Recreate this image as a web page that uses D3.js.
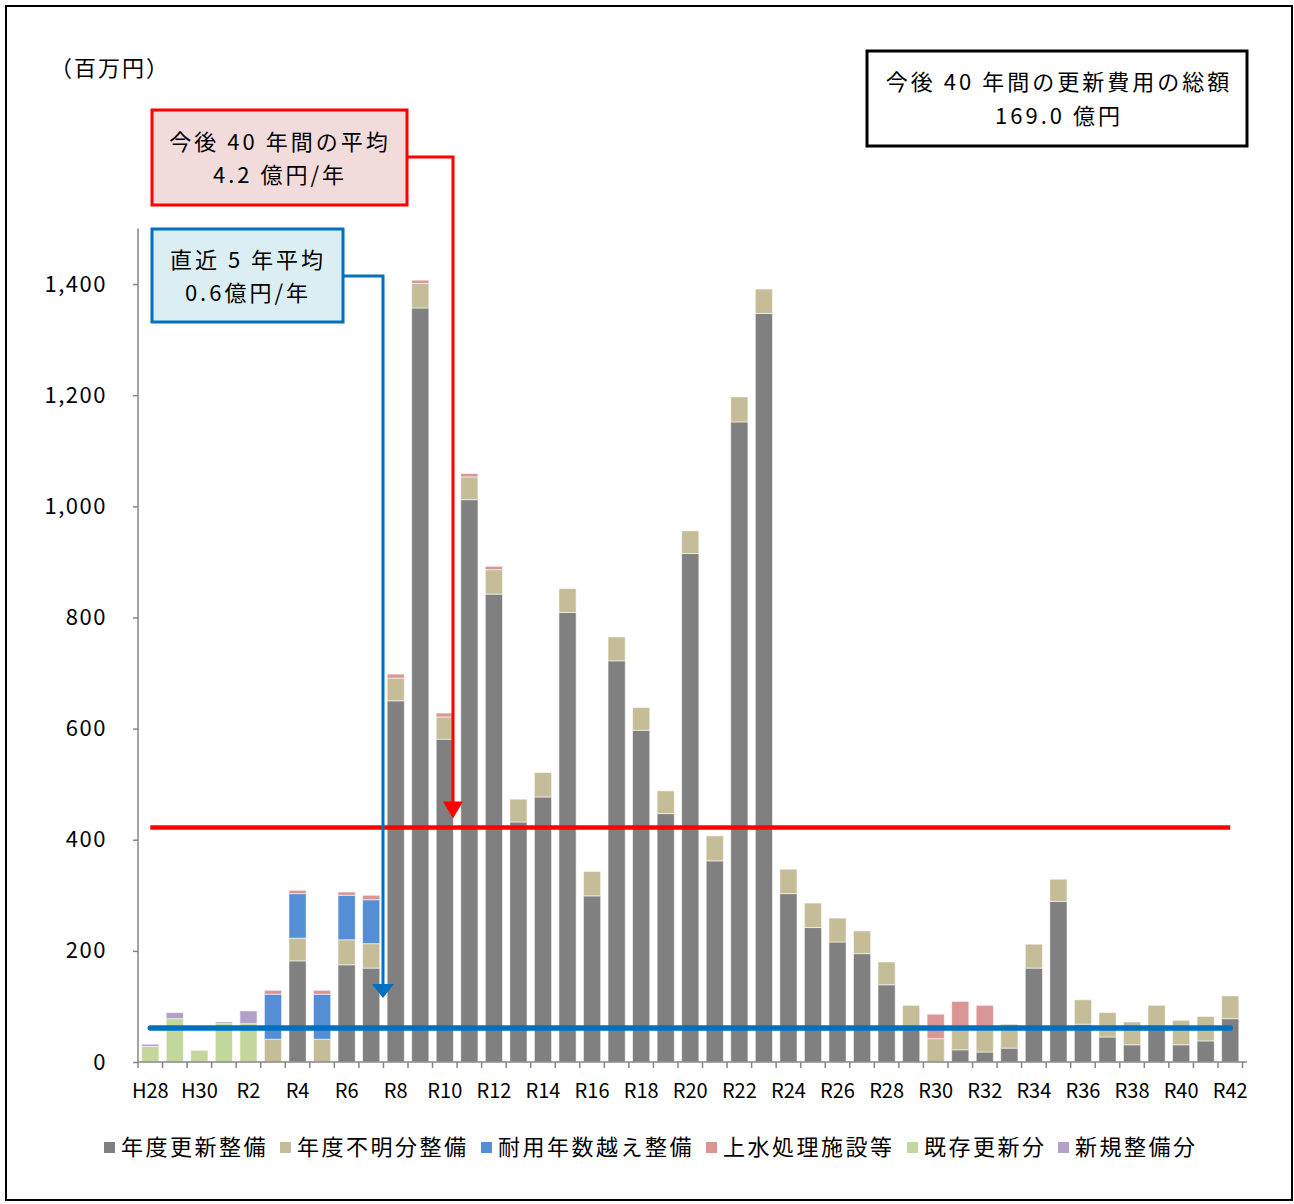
<!DOCTYPE html>
<html><head><meta charset="utf-8">
<script src="https://cdn.jsdelivr.net/npm/d3@7"></script>
<style>
html,body{margin:0;padding:0;background:#fff;}
text{font-family:"Noto Sans CJK JP","Noto Sans",sans-serif;}
</style>
</head><body>
<svg id="c" width="1294" height="1204"></svg>
<script>
const years = ["H28","H29","H30","R1","R2","R3","R4","R5","R6","R7","R8","R9","R10","R11","R12","R13","R14","R15","R16","R17","R18","R19","R20","R21","R22","R23","R24","R25","R26","R27","R28","R29","R30","R31","R32","R33","R34","R35","R36","R37","R38","R39","R40","R41","R42"];
const tickLabels = ["H28","H30","R2","R4","R6","R8","R10","R12","R14","R16","R18","R20","R22","R24","R26","R28","R30","R32","R34","R36","R38","R40","R42"];
const yTicks = [0,200,400,600,800,1000,1200,1400];
const seriesNames = ["年度更新整備","年度不明分整備","耐用年数越え整備","上水処理施設等","既存更新分","新規整備分"];
const seriesColors = ["#808080","#c4bd97","#558ed5","#d99694","#c3d69b","#b3a2c7"];
const renewKnown = [0,0,0,0,0,0,182,0,175,169,650,1357,581,1012,842,432,477,809,299,722,597,447,915,362,1152,1347,303,242,216,195,139,61,0,22,18,25,169,289,68,45,31,60,31,38,78];
const renewUnknown = [0,0,0,0,0,41,41,41,45,44,41,44,40,41,44,41,44,43,44,43,41,41,41,45,45,44,44,44,43,41,41,41,42,42,42,43,43,40,44,44,41,42,44,44,41];
const overLife = [0,0,0,0,0,81,80,81,80,79,0,0,0,0,0,0,0,0,0,0,0,0,0,0,0,0,0,0,0,0,0,0,0,0,0,0,0,0,0,0,0,0,0,0,0];
const waterPlant = [0,0,0,0,0,7,6,7,6,8,7,6,7,6,6,0,0,0,0,0,0,0,0,0,0,0,0,0,0,0,0,0,44,45,42,0,0,0,0,0,0,0,0,0,0];
const existing = [28,78,21,69,69,0,0,0,0,0,0,0,0,0,0,0,0,0,0,0,0,0,0,0,0,0,0,0,0,0,0,0,0,0,0,0,0,0,0,0,0,0,0,0,0];
const newWorks = [4,11,0,3,23,0,0,0,0,0,0,0,0,0,0,0,0,0,0,0,0,0,0,0,0,0,0,0,0,0,0,0,0,0,0,0,0,0,0,0,0,0,0,0,0];
const avg40 = 422;
const avg5 = 61;

const series = [renewKnown,renewUnknown,overLife,waterPlant,existing,newWorks];
const table = years.map((y,i)=>{const o={year:y}; seriesNames.forEach((n,k)=>o[n]=series[k][i]); return o;});
const stack = d3.stack().keys(seriesNames)(table);

const svg = d3.select("#c");
svg.append("rect").attr("x",6).attr("y",6).attr("width",1286).attr("height",1194)
  .attr("fill","#fff").attr("stroke","#000").attr("stroke-width",2);

const x = d3.scaleBand().domain(years).range([138,1242.5]).paddingInner(0.3).paddingOuter(0.15);
const y = d3.scaleLinear().domain([0,1500]).range([1062,228.5]);

// bars
const g = svg.append("g");
g.selectAll("g.s").data(stack).join("g").attr("fill",(d,i)=>seriesColors[i])
  .selectAll("rect").data(d=>d.filter(p=>p[1]-p[0]>0)).join("rect")
  .attr("x",d=>x(d.data.year)).attr("width",x.bandwidth())
  .attr("y",d=>y(d[1])).attr("height",d=>y(d[0])-y(d[1]))
  .attr("stroke","#ffffff").attr("stroke-opacity",0.55).attr("stroke-width",1);

// y axis
const ya = svg.append("g").attr("transform","translate(138,0)")
  .call(d3.axisLeft(y).tickValues(yTicks).tickSize(5).tickFormat(d3.format(",")));
ya.select(".domain").attr("stroke","#868686").attr("stroke-width",1.5).attr("d","M0,228.5V1062");
ya.selectAll(".tick line").attr("stroke","#868686").attr("stroke-width",1.5);
ya.selectAll(".tick text").attr("x",-31).attr("font-size",22).attr("fill","#000").attr("letter-spacing",1.5)
  .attr("font-family","'Noto Sans CJK JP'");

// x axis
const xa = svg.append("g").attr("transform","translate(0,1062)");
xa.append("line").attr("x1",138).attr("x2",1247).attr("y1",0).attr("y2",0).attr("stroke","#868686").attr("stroke-width",1.5);
const bounds = years.map(v=>x(v)-x.step()*x.paddingInner()/2).concat([x(years[years.length-1])+x.bandwidth()+x.step()*x.paddingInner()/2]);
xa.selectAll("line.t").data(bounds).join("line").attr("class","t")
  .attr("x1",d=>d).attr("x2",d=>d).attr("y1",0).attr("y2",6).attr("stroke","#868686").attr("stroke-width",1.5);
xa.selectAll("text").data(tickLabels).join("text")
  .attr("x",d=>x(d)+x.bandwidth()/2).attr("y",36).attr("text-anchor","middle")
  .attr("font-size",20).attr("fill","#000").text(d=>d);

// average lines
const x0 = x(years[0])+x.bandwidth()/2, x1 = x(years[years.length-1])+x.bandwidth()/2;
svg.append("line").attr("x1",x0).attr("x2",x1).attr("y1",y(avg40)).attr("y2",y(avg40))
  .attr("stroke","#ff0000").attr("stroke-width",4.5);
svg.append("line").attr("x1",x0).attr("x2",x1).attr("y1",y(avg5)).attr("y2",y(avg5))
  .attr("stroke","#0070c0").attr("stroke-width",5.5).attr("stroke-linecap","round");

// unit label
svg.append("text").attr("x",50).attr("y",76).attr("font-size",22).attr("letter-spacing",2).text("（百万円）");

// red annotation
svg.append("path").attr("d",`M407,157H453V${y(avg40)-20}`).attr("fill","none").attr("stroke","#ff0000").attr("stroke-width",3);
svg.append("path").attr("d",`M443,${y(avg40)-26}L463,${y(avg40)-26}L453,${y(avg40)-9}Z`).attr("fill","#ff0000");
svg.append("rect").attr("x",152).attr("y",110).attr("width",255).attr("height",95)
  .attr("fill","#f2dcdb").attr("stroke","#ff0000").attr("stroke-width",3);
svg.append("text").attr("x",280).attr("y",150).attr("text-anchor","middle").attr("font-size",22).attr("letter-spacing",3).text("今後 40 年間の平均");
svg.append("text").attr("x",280).attr("y",183).attr("text-anchor","middle").attr("font-size",22).attr("letter-spacing",3).text("4.2 億円/年");

// blue annotation
svg.append("path").attr("d","M343,276H383V985").attr("fill","none").attr("stroke","#0070c0").attr("stroke-width",3);
svg.append("path").attr("d","M372,984L394,984L383,998Z").attr("fill","#0070c0");
svg.append("rect").attr("x",152).attr("y",229).attr("width",191).attr("height",93)
  .attr("fill","#dbeef4").attr("stroke","#0070c0").attr("stroke-width",3);
svg.append("text").attr("x",248).attr("y",268).attr("text-anchor","middle").attr("font-size",22).attr("letter-spacing",3).text("直近 5 年平均");
svg.append("text").attr("x",248).attr("y",301).attr("text-anchor","middle").attr("font-size",22).attr("letter-spacing",3).text("0.6億円/年");

// total box
svg.append("rect").attr("x",867).attr("y",51).attr("width",380).attr("height",95)
  .attr("fill","#fff").attr("stroke","#000").attr("stroke-width",3);
svg.append("text").attr("x",1059).attr("y",90).attr("text-anchor","middle").attr("font-size",22).attr("letter-spacing",3).text("今後 40 年間の更新費用の総額");
svg.append("text").attr("x",1059).attr("y",124).attr("text-anchor","middle").attr("font-size",22).attr("letter-spacing",3).text("169.0 億円");

// legend
const legX = [104,280,481,706,907,1058];
const lg = svg.append("g").selectAll("g").data(seriesNames).join("g")
  .attr("transform",(d,i)=>`translate(${legX[i]},1147)`);
lg.append("rect").attr("x",0).attr("y",-5).attr("width",11).attr("height",11).attr("fill",(d,i)=>seriesColors[i]);
lg.append("text").attr("x",17).attr("y",8).attr("font-size",22).attr("letter-spacing",2.5).text(d=>d);
</script>
</body></html>
